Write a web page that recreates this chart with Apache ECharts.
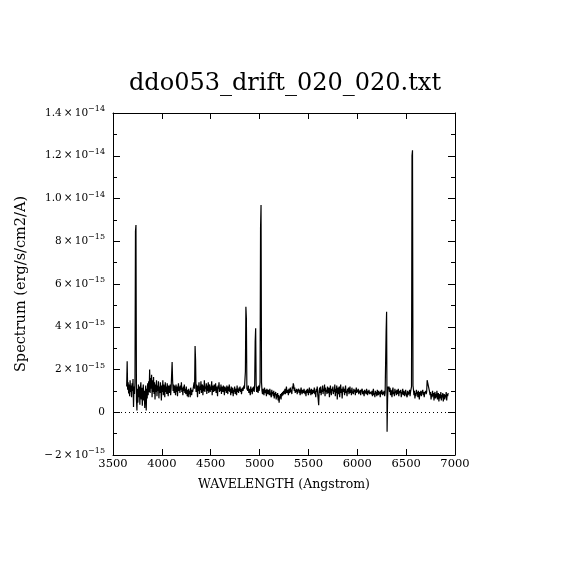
<!DOCTYPE html>
<html>
<head>
<meta charset="utf-8">
<script src="https://cdn.jsdelivr.net/npm/echarts@6/dist/echarts.min.js"></script>
<style>html,body{margin:0;padding:0;background:#fff;}#c{width:570px;height:570px;}</style>
</head>
<body>
<div id="c"></div>
<script>
// Spectrum sampled every WAVE_STEP Angstrom; flux values in units of 1e-17 erg/s/cm2/A.
const WAVE_STEP = 5;
const segStart = [3640, 3750, 3875, 3935, 4115, 4350, 4875, 5030, 5255, 6145, 6330, 6580, 6745];
const fluxA = [120, 238, 105, 140, 88, 130, 75, 150, 95, 125, 70, 135, 100, 155, 25, 120, 85, 140, 845, 876, 60, 8];
const fluxB = [110, 45, 130, 70, 120, 35, 105, 140, 60, 115, 30, 95, 130, 55, 100, 20, 85, 125, 8, 110, 65, 135, 80, 145, 95];
const fluxC = [200, 90, 160, 110, 175, 70, 150, 95, 165, 85, 140, 60];
const fluxD = [130, 95, 150, 75, 125, 100, 145, 65, 120, 90, 140, 110, 55, 125, 95, 150, 80, 130, 105, 70,
  140, 95, 120, 85, 135, 100, 75, 125, 110, 90, 130, 80, 115, 120, 235, 150];
const fluxE1 = [100, 130, 90, 125, 105, 80, 130, 95, 120, 75, 115, 135, 100, 120, 90, 125, 105, 140, 95, 115,
  80, 120, 100, 130, 90, 110, 85, 120, 95, 75, 105, 70, 110, 85, 100, 70, 115, 90, 80, 105,
  95, 110, 125, 140, 110, 310, 245];
const fluxE2 = [95, 130, 110, 70, 125, 100, 140, 85, 120, 105, 145, 90, 115, 130, 80, 125, 100, 150, 95, 120,
  110, 135, 85, 125, 100, 140, 90, 115, 130, 95, 120, 105, 145, 80, 125, 110, 95, 130, 100, 115,
  135, 90, 120, 105, 75, 125, 110, 140, 95, 115, 100, 130, 85, 120, 110, 95, 125, 105, 80, 120,
  100, 115, 90, 125, 105, 85, 120, 100, 130, 95, 110, 80, 120, 100, 90, 115, 75, 105, 95, 120,
  85, 110, 100, 80, 125, 95, 110, 90, 115, 100, 120, 95, 110, 85, 105, 115, 100, 95, 125,
  110, 115, 190, 493, 440, 110];
const fluxF = [115, 100, 125, 90, 110, 105, 80, 120, 95, 110, 85, 115, 100, 120, 95, 130,
  330, 393, 130, 95, 120, 105, 90, 125, 100, 115, 140, 860, 970, 140, 100];
const fluxG = [85, 110, 95, 80, 115, 100, 90, 105, 75, 110, 95, 85, 105, 100, 80, 110, 90, 95, 70, 105,
  85, 95, 75, 100, 65, 90, 80, 95, 60, 85, 70, 90, 55, 80, 45, 75, 65, 85, 60, 90, 75, 95, 80, 100, 85];
const fluxH = [95, 110, 85, 100, 120, 90, 105, 95, 80, 110, 100, 90, 115, 95, 105, 85, 120, 110, 135, 125,
  100, 115, 90, 105, 95, 110, 85, 100, 95, 110, 90, 105, 80, 100, 115, 95, 85, 105, 100, 90,
  110, 95, 85, 100, 75, 105, 90, 110, 95, 80, 100, 115, 90, 105, 80, 110, 95, 85, 105, 100,
  90, 115, 85, 100, 70, 110, 95, 120, 85, 60, 33, 100, 115, 90, 120, 80, 105, 95, 125, 85,
  110, 100, 130, 75, 115, 95, 105, 85, 120, 100, 90, 115, 70, 105, 125, 95, 80, 110, 100, 120,
  85, 105, 95, 130, 75, 110, 90, 125, 60, 100, 115, 85, 120, 70, 105, 130, 90, 110, 65, 100,
  120, 95, 110, 80, 105, 125, 90, 100, 75, 110, 95, 115, 85, 100, 120, 90, 105, 80, 115, 95,
  100, 85, 110, 95, 105, 80, 100, 115, 90, 105, 95, 110, 85, 100, 90, 105, 80, 100, 95, 110,
  85, 100, 95, 75, 105, 90, 100, 85, 110, 95, 80, 100, 90, 105, 85, 95, 100, 90];
const fluxI = [85, 100, 75, 95, 110, 80, 90, 70, 100, 85, 95, 75, 105, 90, 80, 100, 85, 95, 70, 100,
  85, 105, 90, 80, 95, 85, 100, 75, 90, 85, 377, 470, -91, 60, 120, 110, 120];
const fluxJ = [95, 115, 80, 105, 90, 70, 100, 115, 85, 95, 75, 110, 90, 100, 80, 105, 85, 95, 110, 75,
  100, 90, 85, 105, 70, 95, 85, 110, 80, 100, 90, 75, 95, 105, 85, 90, 70, 100, 80, 95,
  85, 105, 75, 95, 100, 120, 1200, 1226, 125, 105];
const fluxK = [80, 100, 65, 90, 75, 105, 85, 95, 70, 100, 85, 60, 95, 80, 100, 75, 90, 85, 105, 80,
  95, 70, 90, 85, 100, 85, 95, 150, 155, 145, 155, 150, 95];
const fluxL = [80, 95, 60, 85, 70, 100, 75, 90, 55, 80, 95, 65, 85, 70, 100, 60, 80, 90, 50, 75,
  85, 65, 95, 55, 80, 70, 90, 50, 75, 85, 60, 80, 70, 95, 55, 85, 75, 90];
const segments = [fluxA, fluxB, fluxC, fluxD, fluxE1, fluxE2, fluxF, fluxG, fluxH, fluxI, fluxJ, fluxK, fluxL];

const xTicks = [3500, 4000, 4500, 5000, 5500, 6000, 6500, 7000];
const yTickValues = [-2, 0, 2, 4, 6, 8, 10, 12, 14]; // in units of 1e-15
const yTickMantissa = ['\u2212\u20092', '0', '2', '4', '6', '8', '1.0', '1.2', '1.4'];
const yTickExponent = ['\u221215', '', '\u221215', '\u221215', '\u221215', '\u221215', '\u221214', '\u221214', '\u221214'];

const TITLE = 'ddo053_drift_020_020.txt';
const X_NAME = 'WAVELENGTH (Angstrom)';
const Y_NAME = 'Spectrum (erg/s/cm2/A)';

const data = [];
segments.forEach((seg, s) => {
  seg.forEach((v, i) => data.push([segStart[s] + WAVE_STEP * i, v / 100]));
});

function yLabel(v) {
  let idx = 0, best = Infinity;
  yTickValues.forEach((t, i) => { const d = Math.abs(t - v); if (d < best) { best = d; idx = i; } });
  if (yTickExponent[idx] === '') return '{m|' + yTickMantissa[idx] + '}';
  return '{m|' + yTickMantissa[idx] + '\u2009\u00d7\u200910}{e|' + yTickExponent[idx] + '}';
}
function xLabel(v) {
  let idx = 0, best = Infinity;
  xTicks.forEach((t, i) => { const d = Math.abs(t - v); if (d < best) { best = d; idx = i; } });
  return String(xTicks[idx]);
}

const chart = echarts.init(document.getElementById('c'), null, {renderer: 'canvas'});
const black = '#000';
const baseX = {
  type: 'value', min: xTicks[0], max: xTicks[xTicks.length - 1], interval: 500,
  axisLine: {show: true, onZero: false, lineStyle: {color: black, width: 1}},
  axisTick: {show: true, inside: true, length: 6, lineStyle: {color: black, width: 1}},
  splitLine: {show: false}
};
const baseY = {
  type: 'value', min: yTickValues[0], max: yTickValues[yTickValues.length - 1], interval: 2,
  axisLine: {show: true, onZero: false, lineStyle: {color: black, width: 1}},
  axisTick: {show: true, inside: true, length: 7, lineStyle: {color: black, width: 1}},
  minorTick: {show: true, splitNumber: 2, length: 4, lineStyle: {color: black, width: 1}},
  splitLine: {show: false}, minorSplitLine: {show: false}
};
chart.setOption({
  animation: false,
  backgroundColor: '#fff',
  title: {
    text: TITLE, left: 'center', top: 67,
    textStyle: {fontFamily: 'DejaVu Serif', fontSize: 24, fontWeight: 'normal', color: black}
  },
  grid: {left: 113, right: 115, top: 113, bottom: 115, containLabel: false, outerBoundsMode: 'none'},
  xAxis: [
    Object.assign({}, baseX, {
      position: 'bottom',
      name: X_NAME, nameLocation: 'middle', nameGap: 23,
      nameTextStyle: {fontFamily: 'DejaVu Serif', fontSize: 12.5, color: black},
      axisLabel: {show: true, margin: 3, formatter: xLabel, fontFamily: 'DejaVu Serif', fontSize: 11.5, color: black}
    }),
    Object.assign({}, baseX, {position: 'top', axisLabel: {show: false}})
  ],
  yAxis: [
    Object.assign({}, baseY, {
      position: 'left',
      name: Y_NAME, nameLocation: 'middle', nameGap: 84, nameRotate: 90,
      nameTextStyle: {fontFamily: 'DejaVu Serif', fontSize: 14.5, color: black},
      axisLabel: {
        show: true, margin: 8, formatter: yLabel,
        rich: {
          m: {fontFamily: 'DejaVu Serif', fontSize: 10.5, color: black, lineHeight: 16, verticalAlign: 'middle'},
          e: {fontFamily: 'DejaVu Serif', fontSize: 8, color: black, lineHeight: 16, verticalAlign: 'top'}
        }
      }
    }),
    Object.assign({}, baseY, {position: 'right', axisLabel: {show: false}})
  ],
  series: [{
    type: 'line', data: data, xAxisIndex: 0, yAxisIndex: 0,
    showSymbol: false, symbol: 'none', sampling: null,
    lineStyle: {color: black, width: 1.2}, silent: true,
    markLine: {
      silent: true, symbol: 'none', label: {show: false},
      lineStyle: {color: black, width: 1, type: [1, 3]},
      data: [{yAxis: 0}]
    }
  }]
});
</script>
</body>
</html>
